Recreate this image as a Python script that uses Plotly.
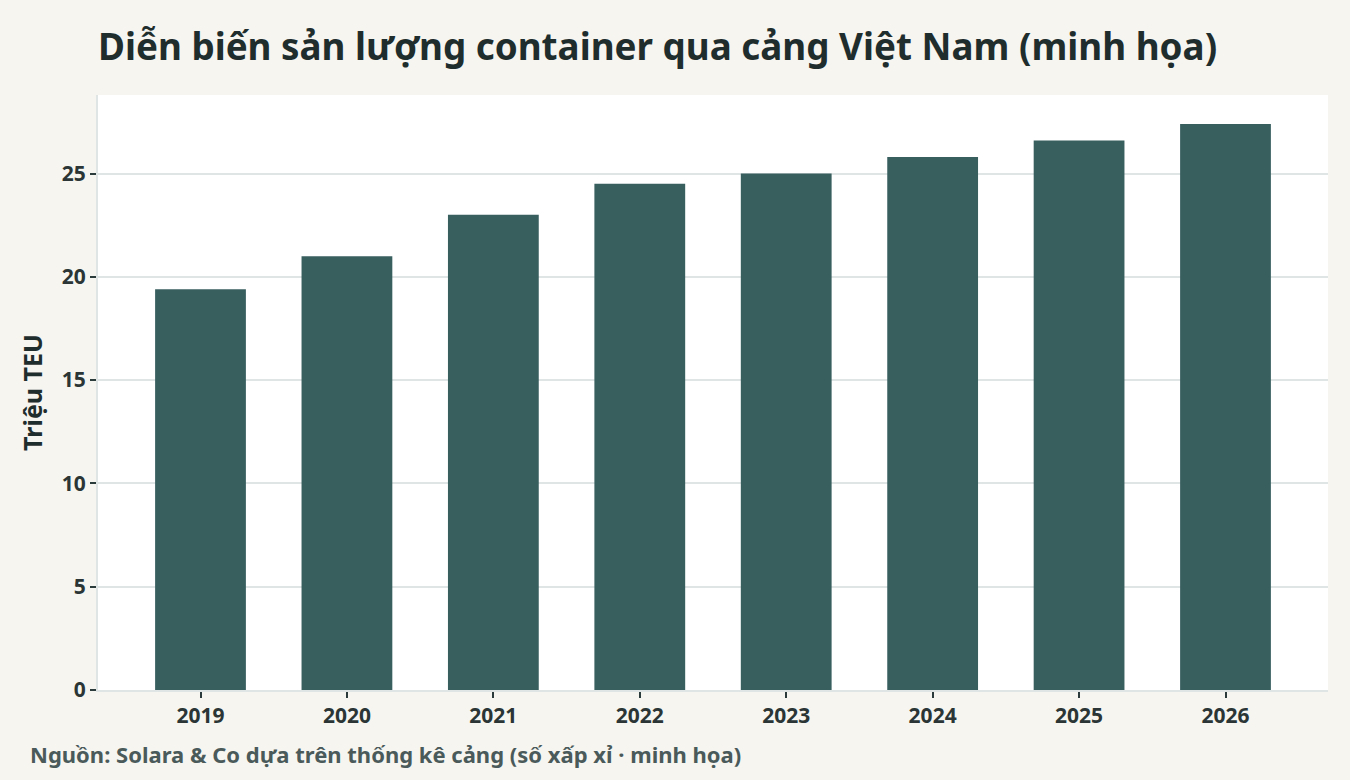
import plotly.graph_objects as go

# data
years = ["2019", "2020", "2021", "2022", "2023", "2024", "2025", "2026"]
teu_million = [19.4, 21.0, 23.0, 24.5, 25.0, 25.8, 26.6, 27.4]

FONT = "Source Sans Pro, Noto Sans, sans-serif"
DARK = "#1f2d2d"
BAR = "#385e5e"
GRID = "#dfe4e4"

fig = go.Figure()
fig.add_trace(go.Bar(x=years, y=teu_million, marker_color=BAR,
                     marker_line_width=0, hoverinfo="x+y"))

fig.update_layout(
    width=1350, height=780,
    paper_bgcolor="#f6f5f0",
    plot_bgcolor="#ffffff",
    margin=dict(l=98, r=22, t=95, b=90),
    bargap=0.38,
    showlegend=False,
    font=dict(family=FONT, color=DARK),
    title=dict(text="<b>Diễn biến sản lượng container qua cảng Việt Nam (minh họa)</b>",
               x=98 / 1350, xanchor="left", y=0.94, yanchor="middle",
               font=dict(size=36.8, color=DARK)),
)

fig.update_xaxes(
    type="category",
    range=[-0.7, len(years) - 0.3],
    showline=True, linecolor=GRID, linewidth=2,
    ticks="outside", tickcolor="#2b3a3a", ticklen=6, tickwidth=2,
    tickfont=dict(size=21, color="#2b3535", weight="bold"),
    showgrid=False,
)
fig.update_yaxes(
    range=[0, 28.8],
    tickvals=[0, 5, 10, 15, 20, 25],
    showline=True, linecolor=GRID, linewidth=2,
    ticks="outside", tickcolor="#2b3a3a", ticklen=6, tickwidth=2,
    tickfont=dict(size=21, color="#2b3535", weight="bold"),
    showgrid=True, gridcolor=GRID, gridwidth=1.5,
    zeroline=False,
    title=dict(text="<b>Triệu TEU</b>", font=dict(size=25, color=DARK), standoff=12),
)

fig.add_annotation(
    text="<b>Nguồn: Solara & Co dựa trên thống kê cảng (số xấp xỉ · minh họa)</b>",
    xref="paper", yref="paper", x=-70 / 1230, y=-0.107,
    xanchor="left", yanchor="middle", showarrow=False,
    font=dict(size=22, color="#4a5a5a"),
)

fig.write_html("out.html", config={"displayModeBar": False},
               post_script="document.body.style.margin='0';")
